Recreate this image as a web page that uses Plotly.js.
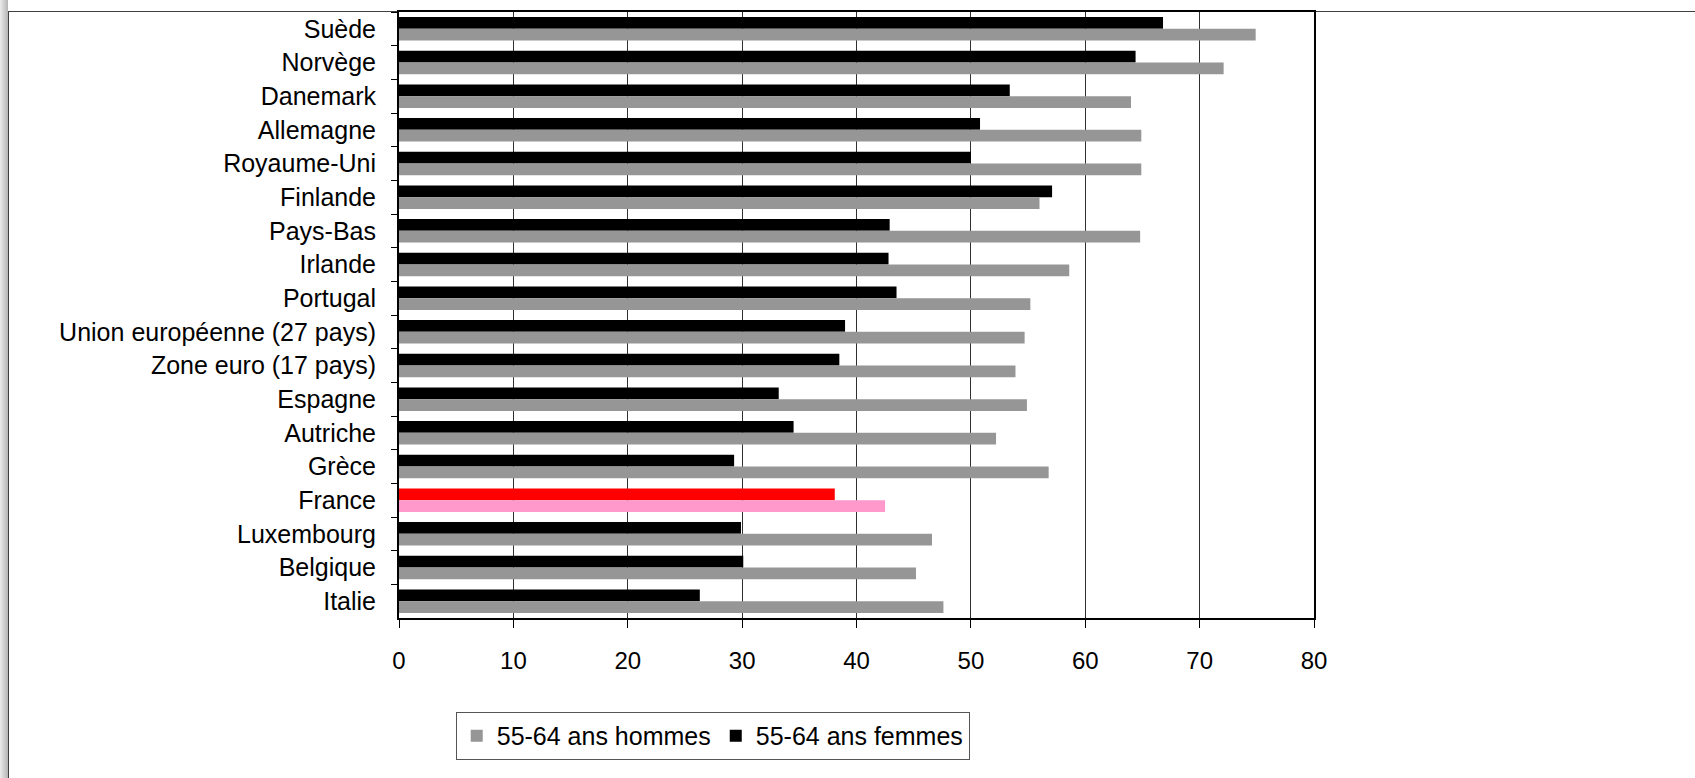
<!DOCTYPE html>
<html>
<head>
<meta charset="utf-8">
<script src="https://cdn.plot.ly/plotly-3.0.1.min.js"></script>
<style>
  html, body { margin: 0; padding: 0; background: #ffffff; }
  #wrap { position: relative; width: 1695px; height: 778px; overflow: hidden; background: #ffffff; }
  #shadow { position: absolute; left: 0; top: 0; width: 8px; height: 778px;
            background: linear-gradient(to right, #ececec, #b4b4b4); }
  #frame { position: absolute; left: 8px; top: 11px; width: 1700px; height: 800px;
           border-left: 1px solid #404040; border-top: 1px solid #404040; }
  #chart { position: absolute; left: 0; top: 0; width: 1695px; height: 778px; }
</style>
</head>
<body>
<div id="wrap">
  <div id="shadow"></div>
  <div id="frame"></div>
  <div id="chart"></div>
</div>
<script>
// Categories, top to bottom as drawn
const categories = [
  "Suède", "Norvège", "Danemark", "Allemagne", "Royaume-Uni", "Finlande",
  "Pays-Bas", "Irlande", "Portugal", "Union européenne (27 pays)",
  "Zone euro (17 pays)", "Espagne", "Autriche", "Grèce", "France",
  "Luxembourg", "Belgique", "Italie"
];
// Employment rate 55-64, women (black bars)
const femmes = [66.8, 64.4, 53.4, 50.8, 50.0, 57.1, 42.9, 42.8, 43.5, 39.0,
                38.5, 33.2, 34.5, 29.3, 38.1, 29.9, 30.1, 26.3];
// Employment rate 55-64, men (grey bars)
const hommes = [74.9, 72.1, 64.0, 64.9, 64.9, 56.0, 64.8, 58.6, 55.2, 54.7,
                53.9, 54.9, 52.2, 56.8, 42.5, 46.6, 45.2, 47.6];
const seriesNames = ["55-64 ans hommes", "55-64 ans femmes"];
const xTicks = [0, 10, 20, 30, 40, 50, 60, 70, 80];
const highlight = "France";

const colF = categories.map(c => c === highlight ? "#ff0000" : "#000000");
const colH = categories.map(c => c === highlight ? "#ff99cc" : "#969696");

const font = "Liberation Sans, Arial, sans-serif";

const traces = [
  {
    type: "bar", orientation: "h", name: seriesNames[1],
    y: categories, x: femmes,
    marker: { color: colF, line: { width: 0 } },
    legendrank: 2, hoverinfo: "x+y"
  },
  {
    type: "bar", orientation: "h", name: seriesNames[0],
    y: categories, x: hommes,
    marker: { color: colH, line: { width: 0 } },
    legendrank: 1, hoverinfo: "x+y"
  }
];

const layout = {
  width: 1695, height: 778,
  margin: { l: 399, r: 381, t: 12, b: 160, pad: 0 },
  paper_bgcolor: "rgba(0,0,0,0)",
  plot_bgcolor: "rgba(0,0,0,0)",
  barmode: "group",
  bargap: 0.3,
  bargroupgap: 0,
  showlegend: true,
  font: { family: font, color: "#000000", size: 24 },
  xaxis: {
    range: [0, 80],
    tickvals: xTicks,
    ticktext: xTicks.map(String),
    showgrid: true, gridcolor: "#303030", gridwidth: 1,
    zeroline: false,
    showline: true, linecolor: "#000000", linewidth: 2, mirror: true,
    ticks: "outside", ticklen: 8, tickcolor: "#000000", tickwidth: 1,
    tickfont: { family: font, size: 24, color: "#000000" },
    ticklabelstandoff: 12,
    fixedrange: true
  },
  yaxis: {
    type: "category",
    categoryorder: "array",
    categoryarray: categories,
    autorange: "reversed",
    showgrid: false, zeroline: false,
    showline: true, linecolor: "#000000", linewidth: 2, mirror: true,
    ticks: "outside", ticklen: 6, tickcolor: "#000000", tickwidth: 1,
    tickson: "boundaries",
    tickfont: { family: font, size: 25, color: "#000000" },
    ticklabelstandoff: 16,
    fixedrange: true
  },
  legend: {
    orientation: "h",
    x: 0.062, xanchor: "left",
    y: -0.155, yanchor: "top",
    bgcolor: "#ffffff",
    bordercolor: "#555555", borderwidth: 1,
    font: { family: font, size: 25, color: "#000000" },
    itemwidth: 30,
    tracegroupgap: 0
  }
};

Plotly.newPlot("chart", traces, layout, { displayModeBar: false, staticPlot: true });
</script>
</body>
</html>
